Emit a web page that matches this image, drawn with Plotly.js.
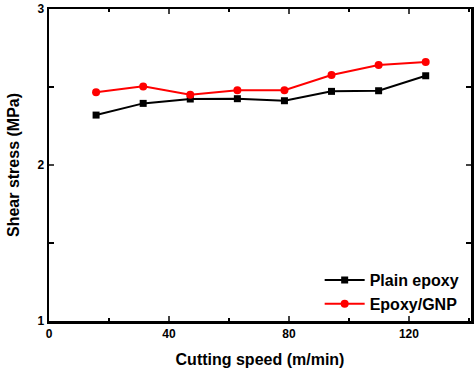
<!DOCTYPE html>
<html>
<head>
<meta charset="utf-8">
<script src="https://cdn.plot.ly/plotly-3.0.1.min.js"></script>
<style>html,body{margin:0;padding:0;background:#fff;}#chart{width:474px;height:371px;}</style>
</head>
<body>
<div id="chart"></div>
<script>
var cuttingSpeed = [15.7, 31.4, 47.1, 62.8, 78.5, 94.2, 109.9, 125.6];
var plainEpoxy = [2.32, 2.395, 2.423, 2.425, 2.412, 2.472, 2.476, 2.572];
var epoxyGNP = [2.466, 2.504, 2.451, 2.479, 2.479, 2.577, 2.641, 2.660];
var seriesNames = ["Plain epoxy", "Epoxy/GNP"];
var yTickVals = [1, 2, 3];
var xTickVals = [0, 40, 80, 120];

var font = "Liberation Sans, Arial, sans-serif";
var traces = [
  {x: cuttingSpeed, y: plainEpoxy, name: seriesNames[0], mode: "lines+markers",
   line: {color: "#000000", width: 2}, marker: {symbol: "square", size: 7, color: "#000000"}},
  {x: cuttingSpeed, y: epoxyGNP, name: seriesNames[1], mode: "lines+markers",
   line: {color: "#ff0000", width: 2}, marker: {symbol: "circle", size: 8, color: "#ff0000"}}
];
var layout = {
  width: 474, height: 371,
  margin: {l: 49, r: 3, t: 9, b: 50},
  paper_bgcolor: "#fff", plot_bgcolor: "#fff",
  font: {family: font, color: "#000", size: 12},
  showlegend: true,
  legend: {x: 0.985, y: 0.0, xanchor: "right", yanchor: "bottom", bgcolor: "rgba(0,0,0,0)",
    itemwidth: 40, tracegroupgap: 0,
    font: {family: font, size: 16, color: "#000", weight: "bold"}},
  xaxis: {range: [0, 140.7], tickvals: xTickVals, ticks: "inside", ticklen: 5, tickwidth: 2,
    showline: true, linewidth: 2.5, linecolor: "#000", mirror: "ticks", showgrid: false, zeroline: false,
    tickfont: {family: font, size: 12, weight: "bold"},
    minor: {dtick: 20, tick0: 0, ticks: "inside", ticklen: 3, tickwidth: 2, tickcolor: "#000", showgrid: false},
    title: {text: "Cutting speed (m/min)", font: {family: font, size: 16, weight: "bold"}, standoff: 14}},
  yaxis: {range: [1, 3], tickvals: yTickVals, ticks: "inside", ticklen: 5, tickwidth: 2,
    showline: true, linewidth: 2.5, linecolor: "#000", mirror: "ticks", showgrid: false, zeroline: false,
    tickfont: {family: font, size: 12, weight: "bold"},
    minor: {dtick: 0.5, tick0: 1, ticks: "inside", ticklen: 5, tickwidth: 2, tickcolor: "#000", showgrid: false},
    title: {text: "Shear stress (MPa)", font: {family: font, size: 16, weight: "bold"}, standoff: 14}}
};
Plotly.newPlot("chart", traces, layout, {displayModeBar: false, staticPlot: true});
</script>
</body>
</html>
